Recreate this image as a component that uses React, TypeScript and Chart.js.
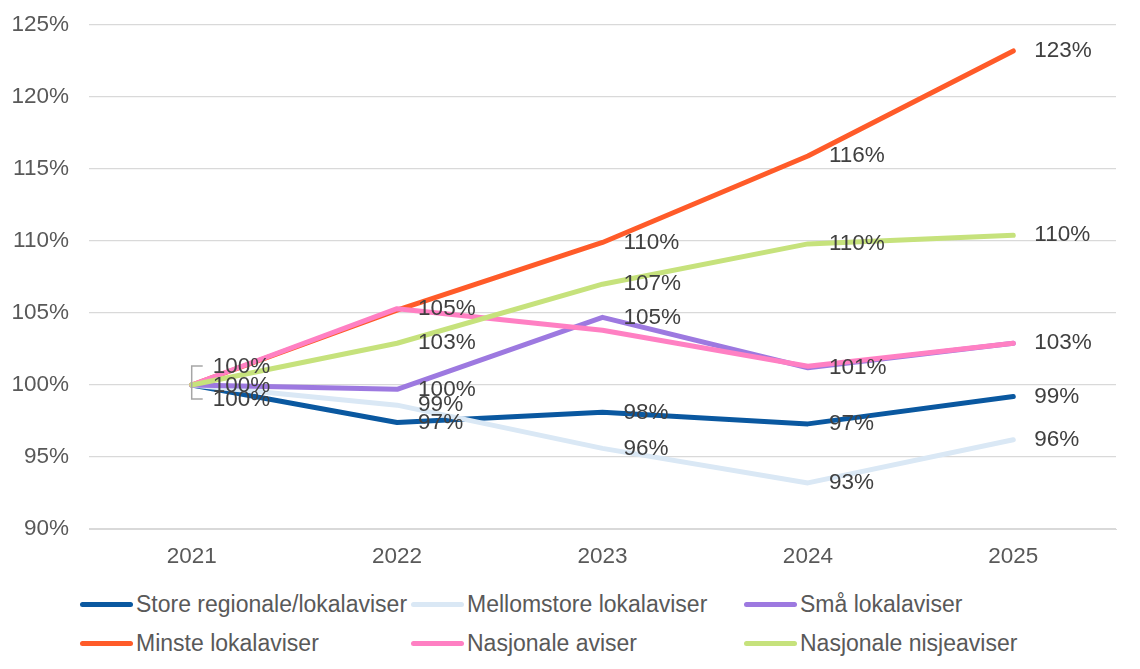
import { useEffect, useRef } from "react"
import { Chart, registerables } from "chart.js"

Chart.register(...registerables)

// Index, 2021 = 100 %
const years = ["2021", "2022", "2023", "2024", "2025"]
const storeRegionale = [100, 97.4, 98.1, 97.3, 99.2]
const mellomstore = [100, 98.6, 95.6, 93.2, 96.2]
const smaa = [100, 99.7, 104.7, 101.2, 102.9]
const minste = [100, 105.2, 109.9, 115.9, 123.2]
const nasjonale = [100, 105.3, 103.8, 101.3, 102.9]
const nisje = [100, 102.9, 107.0, 109.8, 110.4]

// which data labels are visible (the rest overlap in the original)
const storeShown = [true, true, true, true, true]
const mellomShown = [false, true, true, true, true]
const smaaShown = [true, true, true, true, true]
const minsteShown = [false, false, true, true, true]
const nasjonaleShown = [false, true, false, false, false]
const nisjeShown = [true, true, true, true, true]

const yTicks = [90, 95, 100, 105, 110, 115, 120, 125]

const series = [
  { label: "Store regionale/lokalaviser", data: storeRegionale, shown: storeShown, color: "#0A58A0", startDy: 15 },
  { label: "Mellomstore lokalaviser", data: mellomstore, shown: mellomShown, color: "#DAE8F5", startDy: 0 },
  { label: "Små lokalaviser", data: smaa, shown: smaaShown, color: "#9D79E0", startDy: 1 },
  { label: "Minste lokalaviser", data: minste, shown: minsteShown, color: "#FF5B29", startDy: 0 },
  { label: "Nasjonale aviser", data: nasjonale, shown: nasjonaleShown, color: "#FF80C3", startDy: 0 },
  { label: "Nasjonale nisjeaviser", data: nisje, shown: nisjeShown, color: "#C6E27C", startDy: -18 },
]

const FONT = "'Liberation Sans', Arial, sans-serif"

const valueLabels = {
  id: "valueLabels",
  afterDatasetsDraw(chart: Chart) {
    const ctx = chart.ctx
    ctx.save()
    ctx.font = `22.5px ${FONT}`
    ctx.fillStyle = "#404040"
    ctx.textAlign = "left"
    ctx.textBaseline = "middle"
    series.forEach((s, di) => {
      const meta = chart.getDatasetMeta(di)
      meta.data.forEach((pt, i) => {
        if (!s.shown[i]) return
        const dy = i === 0 ? s.startDy : 0
        ctx.fillText(`${Math.round(s.data[i])}%`, pt.x + 21, pt.y + dy)
      })
    })
    // leader bracket for the stacked 2021 labels
    const p0 = chart.getDatasetMeta(0).data[0]
    ctx.strokeStyle = "#A6A6A6"
    ctx.lineWidth = 1.5
    ctx.beginPath()
    ctx.moveTo(p0.x + 11, p0.y - 19)
    ctx.lineTo(p0.x, p0.y - 19)
    ctx.lineTo(p0.x, p0.y + 14)
    ctx.lineTo(p0.x + 11, p0.y + 14)
    ctx.stroke()
    ctx.restore()
  },
}

export default function App() {
  const chartRef = useRef<HTMLCanvasElement>(null)
  const chartInstance = useRef<Chart | null>(null)

  useEffect(() => {
    document.body.style.margin = "0"
    if (!chartRef.current) return
    if (chartInstance.current) chartInstance.current.destroy()
    const ctx = chartRef.current.getContext("2d")
    if (!ctx) return

    chartInstance.current = new Chart(ctx, {
      type: "line",
      data: {
        labels: years,
        datasets: series.map((s, i) => ({
          label: s.label,
          data: s.data,
          borderColor: s.color,
          backgroundColor: s.color,
          borderWidth: 5,
          pointRadius: 0,
          tension: 0,
          borderCapStyle: "round",
          borderJoinStyle: "round",
          order: series.length - i,
        })),
      },
      options: {
        animation: false,
        responsive: true,
        maintainAspectRatio: false,
        layout: { padding: { top: 25, right: 24, left: 0, bottom: 0 } },
        plugins: {
          legend: { display: false },
          tooltip: { enabled: false },
        },
        scales: {
          x: {
            offset: true,
            grid: { display: false },
            border: { display: true, color: "#D9D9D9", width: 1 },
            ticks: {
              color: "#595959",
              font: { family: FONT, size: 22.5 },
              padding: 6,
              maxRotation: 0,
            },
            afterFit: (scale) => {
              scale.height = 51
              scale.paddingLeft = 0
              scale.paddingRight = 0
            },
          },
          y: {
            min: 90,
            max: 125,
            afterBuildTicks: (scale) => {
              scale.ticks = yTicks.map((v) => ({ value: v }))
            },
            grid: { color: "#D9D9D9", lineWidth: 1.3, drawTicks: false },
            border: { display: false },
            ticks: {
              color: "#595959",
              font: { family: FONT, size: 22.5 },
              padding: 20,
              callback: (v) => `${v}%`,
            },
            afterFit: (scale) => {
              scale.width = 89
              scale.paddingTop = 0
              scale.paddingBottom = 0
            },
          },
        },
      },
      plugins: [valueLabels],
    })

    return () => {
      if (chartInstance.current) {
        chartInstance.current.destroy()
        chartInstance.current = null
      }
    }
  }, [])

  const colX = [80, 411, 744]
  const rowY = [604, 643]

  return (
    <div style={{ position: "relative", width: 1140, height: 669, background: "#fff", fontFamily: FONT }}>
      <div style={{ position: "absolute", left: 0, top: 0, width: 1140, height: 580 }}>
        <canvas ref={chartRef} />
      </div>
      {series.map((s, i) => (
        <div
          key={s.label}
          style={{
            position: "absolute",
            left: colX[i % 3],
            top: rowY[Math.floor(i / 3)] - 14,
            height: 28,
            display: "flex",
            alignItems: "center",
            whiteSpace: "nowrap",
            fontSize: 23,
            color: "#595959",
          }}
        >
          <span
            style={{
              display: "inline-block",
              width: 53,
              height: 5,
              borderRadius: 3,
              background: s.color,
              marginRight: 3,
            }}
          />
          {s.label}
        </div>
      ))}
    </div>
  )
}
